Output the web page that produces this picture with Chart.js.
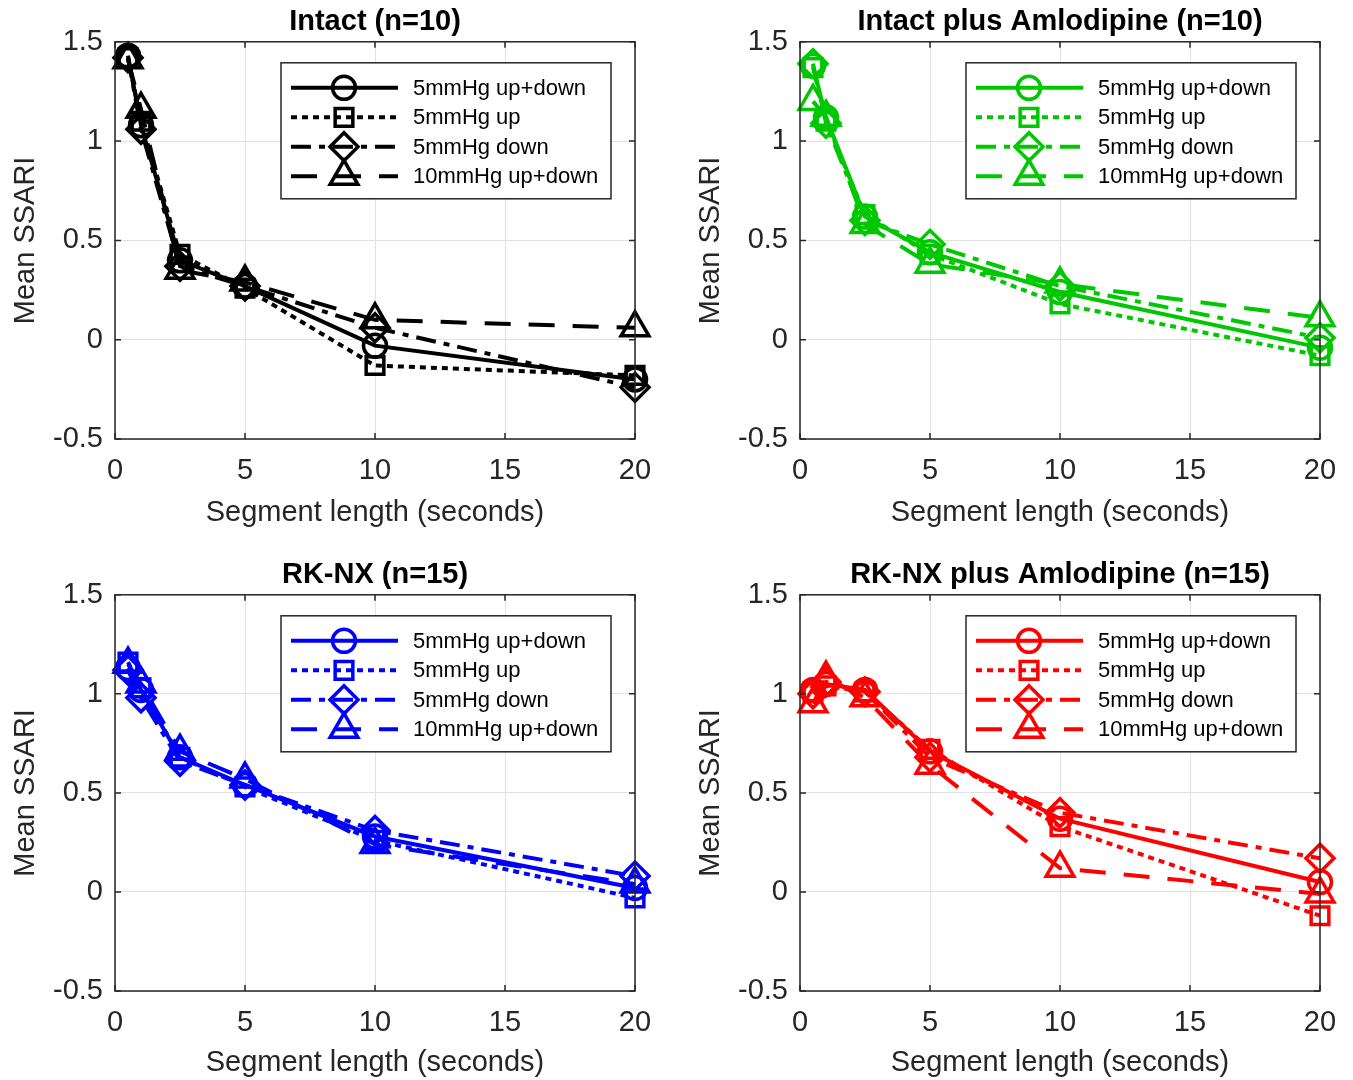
<!DOCTYPE html>
<html>
<head>
<meta charset="utf-8">
<script src="https://cdn.jsdelivr.net/npm/chart.js@4.4.1/dist/chart.umd.min.js"></script>
<style>
  html, body { margin: 0; padding: 0; background: #ffffff; overflow: hidden; }
  .panel { position: absolute; }
</style>
</head>
<body>
<div class="panel" style="left:0px;top:0px;"><canvas id="c1" width="676" height="540"></canvas></div>
<div class="panel" style="left:685px;top:0px;"><canvas id="c2" width="668" height="540"></canvas></div>
<div class="panel" style="left:0px;top:553px;"><canvas id="c3" width="676" height="527"></canvas></div>
<div class="panel" style="left:685px;top:553px;"><canvas id="c4" width="668" height="527"></canvas></div>
<script>
// ---------------- DATA ----------------
const segmentLengths = [0.5, 1, 2.5, 5, 10, 20];
const seriesLabels = ['5mmHg up+down', '5mmHg up', '5mmHg down', '10mmHg up+down'];
const panelTitles = ['Intact (n=10)', 'Intact plus Amlodipine (n=10)', 'RK-NX (n=15)', 'RK-NX plus Amlodipine (n=15)'];
const xTickValues = [0, 5, 10, 15, 20];
const xTickLabels = ['0', '5', '10', '15', '20'];
const yTickValues = [-0.5, 0, 0.5, 1, 1.5];
const yTickLabels = ['-0.5', '0', '0.5', '1', '1.5'];
const xAxisTitle = 'Segment length (seconds)';
const yAxisTitle = 'Mean SSARI';

// Intact (n=10)
const intactUpDown5  = [1.43, 1.08, 0.40, 0.27, -0.03, -0.20];
const intactUp5      = [1.42, 1.10, 0.43, 0.26, -0.13, -0.18];
const intactDown5    = [1.42, 1.06, 0.37, 0.27, 0.06, -0.24];
const intactUpDown10 = [1.41, 1.16, 0.35, 0.29, 0.10, 0.06];

// Intact plus Amlodipine (n=10)
const intactAmlUpDown5  = [1.38, 1.12, 0.62, 0.44, 0.24, -0.04];
const intactAmlUp5      = [1.37, 1.10, 0.63, 0.43, 0.18, -0.08];
const intactAmlDown5    = [1.39, 1.09, 0.60, 0.48, 0.27, 0.01];
const intactAmlUpDown10 = [1.20, 1.12, 0.58, 0.38, 0.28, 0.11];

// RK-NX (n=15)
const rknxUpDown5  = [1.13, 1.02, 0.68, 0.54, 0.28, 0.02];
const rknxUp5      = [1.16, 1.03, 0.68, 0.53, 0.26, -0.03];
const rknxDown5    = [1.12, 0.98, 0.66, 0.54, 0.31, 0.08];
const rknxUpDown10 = [1.15, 1.05, 0.71, 0.57, 0.24, 0.04];

// RK-NX plus Amlodipine (n=15)
const rknxAmlUpDown5  = [1.02, 1.05, 1.02, 0.71, 0.37, 0.05];
const rknxAmlUp5      = [1.01, 1.04, 1.01, 0.72, 0.33, -0.12];
const rknxAmlDown5    = [1.00, 1.06, 1.01, 0.68, 0.40, 0.17];
const rknxAmlUpDown10 = [0.95, 1.08, 0.98, 0.64, 0.12, -0.01];

const panelColors = ['#000000', '#00c800', '#0000ff', '#ff0000'];

// ---------------- STYLE ----------------
const FONT = "'Liberation Sans', Arial, Helvetica, sans-serif";
const AXIS_COLOR = '#262626';
const seriesStyles = [
  { pointStyle: 'circle',   dash: [],             r: 11.5 },
  { pointStyle: 'rect',     dash: [6, 5],         r: 12.5 },
  { pointStyle: 'rectRot',  dash: [20, 8, 6, 8],  r: 14 },
  { pointStyle: 'triangle', dash: [26, 18],       r: 16 }
];
const LINE_W = 4;
const PT_BW = 3.5;

function drawMarker(ctx, style, x, y, r) {
  ctx.beginPath();
  if (style === 'circle') {
    ctx.arc(x, y, r, 0, Math.PI * 2);
  } else if (style === 'rect') {
    const s = r * Math.SQRT1_2;
    ctx.rect(x - s, y - s, 2 * s, 2 * s);
  } else if (style === 'rectRot') {
    ctx.moveTo(x, y - r); ctx.lineTo(x + r, y); ctx.lineTo(x, y + r); ctx.lineTo(x - r, y); ctx.closePath();
  } else if (style === 'triangle') {
    const w = r * Math.sqrt(3);
    ctx.moveTo(x, y - r); ctx.lineTo(x + w / 2, y + r / 2); ctx.lineTo(x - w / 2, y + r / 2); ctx.closePath();
  }
  ctx.stroke();
}

const framePlugin = {
  id: 'matlabFrame',
  afterDatasetsDraw(chart) {
    const { ctx, chartArea: a, scales } = chart;
    ctx.save();
    ctx.strokeStyle = AXIS_COLOR;
    ctx.lineWidth = 1.5;
    ctx.setLineDash([]);
    ctx.strokeRect(a.left, a.top, a.right - a.left, a.bottom - a.top);
    const tl = 6;
    ctx.beginPath();
    xTickValues.forEach(v => {
      const px = scales.x.getPixelForValue(v);
      ctx.moveTo(px, a.bottom); ctx.lineTo(px, a.bottom - tl);
      ctx.moveTo(px, a.top); ctx.lineTo(px, a.top + tl);
    });
    yTickValues.forEach(v => {
      const py = scales.y.getPixelForValue(v);
      ctx.moveTo(a.left, py); ctx.lineTo(a.left + tl, py);
      ctx.moveTo(a.right, py); ctx.lineTo(a.right - tl, py);
    });
    ctx.stroke();

    // legend box
    const bw = 330, bh = 136;
    const bx = a.right - 24 - bw, by = a.top + 21;
    ctx.fillStyle = '#ffffff';
    ctx.fillRect(bx, by, bw, bh);
    ctx.lineWidth = 1.5;
    ctx.strokeStyle = AXIS_COLOR;
    ctx.strokeRect(bx, by, bw, bh);
    chart.data.datasets.forEach((ds, i) => {
      const y = by + 25 + i * 29.5;
      ctx.strokeStyle = ds.borderColor;
      ctx.lineWidth = LINE_W;
      ctx.setLineDash(ds.borderDash || []);
      ctx.beginPath();
      ctx.moveTo(bx + 10, y); ctx.lineTo(bx + 117, y);
      ctx.stroke();
      ctx.setLineDash([]);
      ctx.lineWidth = PT_BW;
      drawMarker(ctx, ds.pointStyle, bx + 63, y, ds.pointRadius);
      ctx.fillStyle = '#000000';
      ctx.font = "22px " + FONT;
      ctx.textBaseline = 'middle';
      ctx.textAlign = 'left';
      ctx.fillText(ds.label, bx + 132, y + 1);
    });
    ctx.restore();
  }
};

function makeChart(id, title, color, seriesList, width, xAxisHeight, xTitlePad) {
  const datasets = seriesList.map((vals, i) => ({
    label: seriesLabels[i],
    data: segmentLengths.map((x, j) => ({ x: x, y: vals[j] })),
    borderColor: color,
    backgroundColor: 'rgba(0,0,0,0)',
    borderWidth: LINE_W,
    borderDash: seriesStyles[i].dash,
    pointStyle: seriesStyles[i].pointStyle,
    pointRadius: seriesStyles[i].r,
    pointBorderWidth: PT_BW,
    pointBorderColor: color,
    pointBackgroundColor: 'rgba(0,0,0,0)',
    tension: 0,
    clip: false,
    fill: false
  }));
  new Chart(document.getElementById(id), {
    type: 'line',
    data: { datasets },
    plugins: [framePlugin],
    options: {
      responsive: false,
      animation: false,
      events: [],
      layout: { padding: { left: 0, right: width - 635, top: 0, bottom: 0 } },
      plugins: {
        legend: { display: false },
        tooltip: { enabled: false },
        title: {
          display: true, text: title, fullSize: false, color: '#000000',
          font: { family: FONT, size: 29, weight: 'bold' },
          padding: { top: 5, bottom: 2 }
        }
      },
      scales: {
        x: {
          type: 'linear', min: 0, max: 20,
          afterBuildTicks: s => { s.ticks = xTickValues.map(v => ({ value: v })); },
          ticks: {
            autoSkip: false, maxRotation: 0, padding: 15, color: AXIS_COLOR,
            font: { family: FONT, size: 29 },
            callback: v => xTickLabels[xTickValues.indexOf(v)]
          },
          grid: { color: '#e2e2e2', lineWidth: 1, drawTicks: false },
          border: { display: false },
          title: {
            display: true, text: xAxisTitle, color: AXIS_COLOR,
            font: { family: FONT, size: 29 }, padding: { top: 0, bottom: xTitlePad }
          },
          afterFit: s => { s.height = xAxisHeight; }
        },
        y: {
          type: 'linear', min: -0.5, max: 1.5,
          afterBuildTicks: s => { s.ticks = yTickValues.map(v => ({ value: v })); },
          ticks: {
            autoSkip: false, padding: 12, color: AXIS_COLOR,
            font: { family: FONT, size: 29 },
            callback: v => yTickLabels[yTickValues.indexOf(v)]
          },
          grid: { color: '#e2e2e2', lineWidth: 1, drawTicks: false },
          border: { display: false },
          title: {
            display: true, text: yAxisTitle, color: AXIS_COLOR,
            font: { family: FONT, size: 29 }, padding: { top: 9, bottom: 0 }
          },
          afterFit: s => { s.width = 115; }
        }
      }
    }
  });
}

makeChart('c1', panelTitles[0], panelColors[0], [intactUpDown5, intactUp5, intactDown5, intactUpDown10], 676, 101, 10);
makeChart('c2', panelTitles[1], panelColors[1], [intactAmlUpDown5, intactAmlUp5, intactAmlDown5, intactAmlUpDown10], 668, 101, 10);
makeChart('c3', panelTitles[2], panelColors[2], [rknxUpDown5, rknxUp5, rknxDown5, rknxUpDown10], 676, 89, 0);
makeChart('c4', panelTitles[3], panelColors[3], [rknxAmlUpDown5, rknxAmlUp5, rknxAmlDown5, rknxAmlUpDown10], 668, 89, 0);
</script>
</body>
</html>
